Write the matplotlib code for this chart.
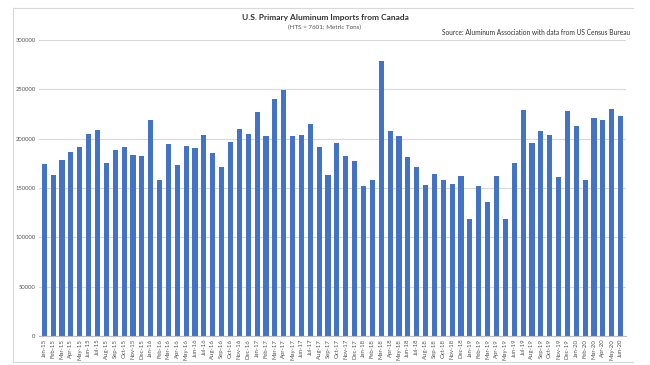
import matplotlib
matplotlib.use("Agg")
import matplotlib.pyplot as plt
from matplotlib.lines import Line2D

plt.rcParams['font.family'] = ['Lato', 'DejaVu Sans']

months = ["Jan", "Feb", "Mar", "Apr", "May", "Jun", "Jul", "Aug", "Sep", "Oct", "Nov", "Dec"]
labels = []
for yr in range(15, 21):
    for m in months:
        labels.append(f"{m}-{yr}")
labels = labels[:66]  # Jan-15 .. Jun-20

# metric tons
imports_2015 = [174000, 163500, 178000, 186800, 191500, 205000,
                209300, 175300, 188100, 191800, 183700, 182700]
imports_2016 = [219500, 158100, 194200, 172900, 192800, 190500,
                203600, 185700, 171800, 197200, 210400, 204600]
imports_2017 = [226900, 202300, 240700, 249500, 202300, 203600,
                215100, 192100, 163500, 195200, 182700, 177700]
imports_2018 = [152400, 158400, 279100, 208300, 202600, 181000,
                171600, 152700, 164200, 158400, 154100, 162500]
imports_2019 = [118700, 152000, 136200, 162500, 118700, 175600,
                228900, 195500, 208300, 203600, 161100, 228200]
imports_2020 = [212700, 158400, 221100, 219500, 229900, 223500]

values = imports_2015 + imports_2016 + imports_2017 + imports_2018 + imports_2019 + imports_2020

fig = plt.figure(figsize=(6.5, 3.65), dpi=100)
ax = fig.add_axes([0.06, 0.0795, 0.903, 0.8105])

x = list(range(len(values)))
ax.bar(x, values, width=0.58, color="#4472C4", zorder=2)

ax.set_xlim(-0.6, len(values) - 0.4)
ax.set_ylim(0, 300000)
ax.set_yticks(range(0, 300001, 50000))
ax.set_yticklabels([str(v) for v in range(0, 300001, 50000)], fontsize=4.2, color="#555555")
ax.set_xticks(x)
ax.set_xticklabels(labels, rotation=90, fontsize=4.3, color="#555555")
ax.tick_params(axis="x", length=0, pad=2)
ax.tick_params(axis="y", length=0, pad=2.5)
ax.grid(axis="y", color="#d9d9d9", linewidth=0.8, zorder=0)
for s in ["top", "right", "left"]:
    ax.spines[s].set_visible(False)
ax.spines["bottom"].set_color("#bfbfbf")
ax.spines["bottom"].set_linewidth(0.8)

fig.text(0.5, 0.952, "U.S. Primary Aluminum Imports from Canada", ha="center", va="center",
         fontsize=6, fontweight="bold", color="#333333")
fig.text(0.5, 0.925, "(HTS = 7601; Metric Tons)", ha="center", va="center",
         fontsize=4.5, color="#555555")
fig.text(0.969, 0.912, "Source: Aluminum Association with data from US Census Bureau",
         ha="right", va="center", fontsize=4.8, color="#333333")

# light frame around the chart (top, left, bottom)
fx0, fx1 = 13 / 650, 633 / 650
fy0, fy1 = 1 - 362 / 365, 1 - 8 / 365
for xs, ys in [((fx0, fx1), (fy1, fy1)), ((fx0, fx0), (fy0, fy1)), ((fx0, fx1), (fy0, fy0))]:
    fig.lines.append(Line2D(xs, ys, transform=fig.transFigure, color="#d9d9d9", linewidth=0.8))

fig.savefig("out.png", dpi=100, facecolor="white")
